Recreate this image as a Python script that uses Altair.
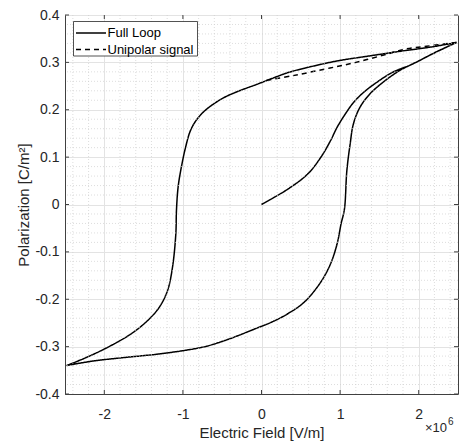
import altair as alt
import pandas as pd

# ---- data (E in units of 1e6 V/m, P in C/m^2) ----
virgin_E = [0.0, 0.34, 0.589, 0.755, 0.879, 0.962, 1.066, 1.169, 1.294, 1.459, 1.667, 1.915, 2.164, 2.48]
virgin_P = [0.0, 0.033, 0.0646, 0.0997, 0.135, 0.163, 0.191, 0.215, 0.236, 0.257, 0.279, 0.296, 0.317, 0.342]

upper_E = [2.48, 2.164, 1.791, 1.377, 0.962, 0.547, 0.34, 0.133, -0.075, -0.282, -0.489, -0.697, -0.821,
           -0.904, -0.966, -1.02, -1.061, -1.082, -1.09, -1.132, -1.194, -1.297, -1.443, -1.65, -1.94, -2.23, -2.48]
upper_P = [0.342, 0.3326, 0.324, 0.3137, 0.303, 0.2877, 0.2786, 0.266, 0.2526, 0.240, 0.2246, 0.2014, 0.180,
           0.156, 0.1207, 0.0786, 0.0365, -0.0126, -0.062, -0.132, -0.181, -0.216, -0.244, -0.272, -0.300, -0.323, -0.340]

lower_E = [-2.48, -2.148, -1.733, -1.318, -0.904, -0.697, -0.489, -0.282, -0.075, 0.133, 0.34, 0.547, 0.755,
           0.879, 0.962, 1.012, 1.055, 1.086, 1.128, 1.169, 1.252, 1.377, 1.542, 1.75, 1.999, 2.247, 2.48]
lower_P = [-0.340, -0.3305, -0.3228, -0.3158, -0.306, -0.299, -0.2884, -0.2758, -0.262, -0.248, -0.230, -0.2056,
           -0.1635, -0.125, -0.083, -0.041, -0.010, 0.0716, 0.128, 0.170, 0.205, 0.233, 0.2575, 0.282, 0.303, 0.324, 0.342]

uni_E = [2.48, 2.1, 1.83, 1.6, 1.2, 0.8, 0.4, 0.03]
uni_P = [0.342, 0.334, 0.328, 0.3175, 0.300, 0.2856, 0.272, 0.261]

x_ticks = [-2, -1, 0, 1, 2]
y_ticks = [-0.4, -0.3, -0.2, -0.1, 0, 0.1, 0.2, 0.3, 0.4]
x_minor = [-2.4, -2.2, -1.8, -1.6, -1.4, -1.2, -0.8, -0.6, -0.4, -0.2,
           0.2, 0.4, 0.6, 0.8, 1.2, 1.4, 1.6, 1.8, 2.2, 2.4]
y_minor = [-0.38, -0.36, -0.34, -0.32, -0.28, -0.26, -0.24, -0.22, -0.18, -0.16, -0.14, -0.12,
           -0.08, -0.06, -0.04, -0.02, 0.02, 0.04, 0.06, 0.08, 0.12, 0.14, 0.16, 0.18,
           0.22, 0.24, 0.26, 0.28, 0.32, 0.34, 0.36, 0.38]

full_E = virgin_E + upper_E + lower_E
full_P = virgin_P + upper_P + lower_P
df = pd.DataFrame({
    "E": full_E + uni_E,
    "P": full_P + uni_P,
    "series": ["Full Loop"] * len(full_E) + ["Unipolar signal"] * len(uni_E),
    "idx": list(range(len(full_E))) + list(range(len(uni_E))),
})

FONT = "Liberation Sans"
TXT = "#262626"
W, H = 393, 379

xs = alt.Scale(domain=[-2.5, 2.5], nice=False, zero=False)
ys = alt.Scale(domain=[-0.4, 0.4], nice=False, zero=False)

x_axis = alt.Axis(values=x_ticks, title="Electric Field [V/m]", labelExpr="'' + datum.value",
                  grid=True, gridColor="#e3e3e3", ticks=False, labelPadding=13,
                  labelFont=FONT, labelFontSize=14, labelColor=TXT,
                  titleFont=FONT, titleFontSize=15, titleColor=TXT, titleFontWeight="normal",
                  domainColor="#404040",
                  titleY=43, titleBaseline="alphabetic")
y_axis = alt.Axis(values=y_ticks, title="Polarization [C/m²]", labelExpr="'' + datum.value",
                  grid=True, gridColor="#e3e3e3", ticks=False, labelPadding=6,
                  labelFont=FONT, labelFontSize=14, labelColor=TXT,
                  titleFont=FONT, titleFontSize=15, titleColor=TXT, titleFontWeight="normal",
                  domainColor="#404040",
                  titleX=-37, titleBaseline="alphabetic")

X = lambda f: alt.X(f, scale=xs, axis=x_axis)
Y = lambda f: alt.Y(f, scale=ys, axis=y_axis)

lines = alt.Chart(df).mark_line(color="black", strokeWidth=1.5, clip=True,
                                interpolate="catmull-rom").encode(
    x=X("E:Q"),
    y=Y("P:Q"),
    detail="series:N",
    order="idx:Q",
    strokeDash=alt.StrokeDash("series:N", scale=alt.Scale(domain=["Full Loop", "Unipolar signal"],
                                                          range=[[1, 0], [5, 4]]), legend=None),
)

minor_x = alt.Chart(pd.DataFrame({"v": x_minor})).mark_rule(
    color="#cfcfcf", strokeWidth=0.7, strokeDash=[1, 2]).encode(x=X("v:Q"))
minor_y = alt.Chart(pd.DataFrame({"v": y_minor})).mark_rule(
    color="#cfcfcf", strokeWidth=0.7, strokeDash=[1, 2]).encode(y=Y("v:Q"))

# inward tick marks (MATLAB style box)
xt = pd.DataFrame({"v": x_ticks})
yt = pd.DataFrame({"v": y_ticks})
tick_style = dict(color="#404040", strokeWidth=1)
xt_bot = alt.Chart(xt).mark_rule(**tick_style).encode(x=X("v:Q"), y=alt.value(H), y2=alt.value(H - 4))
xt_top = alt.Chart(xt).mark_rule(**tick_style).encode(x=X("v:Q"), y=alt.value(0), y2=alt.value(4))
yt_left = alt.Chart(yt).mark_rule(**tick_style).encode(y=Y("v:Q"), x=alt.value(0), x2=alt.value(4))
yt_right = alt.Chart(yt).mark_rule(**tick_style).encode(y=Y("v:Q"), x=alt.value(W), x2=alt.value(W - 4))

one = pd.DataFrame({"a": [0]})
# legend box
leg_box = alt.Chart(one).mark_rect(
    fill="white", stroke="#262626", strokeWidth=0.8).encode(
    x=alt.value(8.5), x2=alt.value(132.5), y=alt.value(6.5), y2=alt.value(41))
leg_l1 = alt.Chart(one).mark_rule(color="black", strokeWidth=1.5).encode(
    x=alt.value(11), x2=alt.value(41), y=alt.value(18))
leg_l2 = alt.Chart(one).mark_rule(color="black", strokeWidth=1.5, strokeDash=[5, 4]).encode(
    x=alt.value(11), x2=alt.value(41), y=alt.value(34.5))
leg_t1 = alt.Chart(one).mark_text(
    font=FONT, fontSize=13, color="black", align="left", baseline="middle").encode(
    x=alt.value(42.5), y=alt.value(18), text=alt.value("Full Loop"))
leg_t2 = alt.Chart(one).mark_text(
    font=FONT, fontSize=13, color="black", align="left", baseline="middle").encode(
    x=alt.value(42.5), y=alt.value(34.5), text=alt.value("Unipolar signal"))

# exponent label
exp_a = alt.Chart(one).mark_text(
    font=FONT, fontSize=13, color=TXT, align="left", baseline="alphabetic").encode(
    x=alt.value(W - 33), y=alt.value(H + 38), text=alt.value("×10"))
exp_b = alt.Chart(one).mark_text(
    font=FONT, fontSize=10, color=TXT, align="left", baseline="alphabetic").encode(
    x=alt.value(W - 10), y=alt.value(H + 31), text=alt.value("6"))

chart = alt.layer(
    lines, minor_x, minor_y, xt_bot, xt_top, yt_left, yt_right,
    leg_box, leg_l1, leg_l2, leg_t1, leg_t2, exp_a, exp_b
).properties(
    width=W, height=H,
    background="white",
    autosize=alt.AutoSizeParams(type="none"),
    padding={"left": 57, "top": 7, "right": 1, "bottom": 49},
).configure_view(
    stroke="#404040", strokeWidth=1
)

chart.save("out.html", embed_options={"renderer": "svg", "actions": False})
